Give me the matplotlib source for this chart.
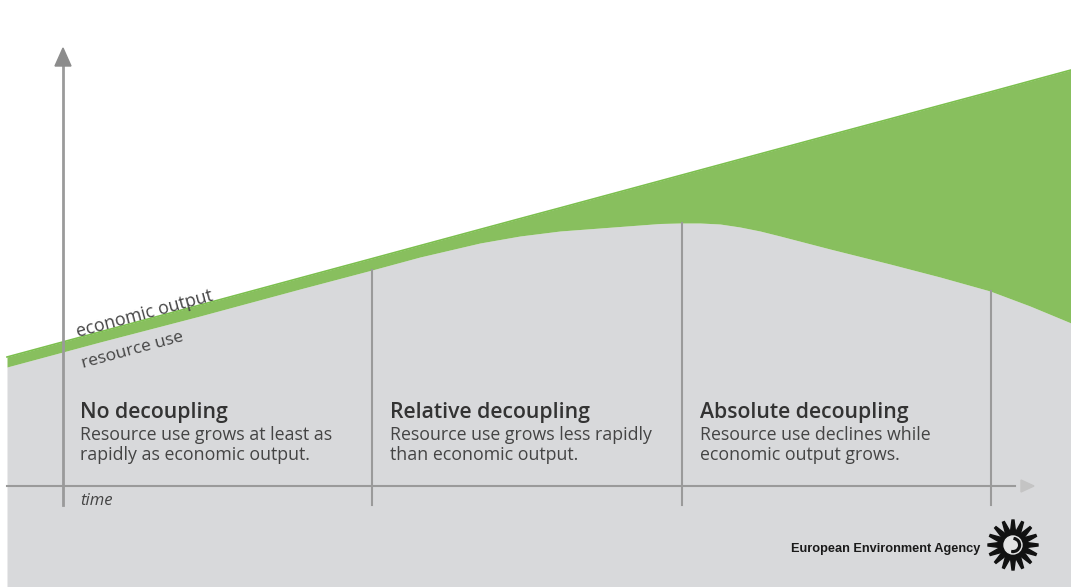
import numpy as np
import matplotlib.pyplot as plt
from matplotlib.patches import Polygon, Circle, Wedge

# curve values (pixel-like units, y measured from the top of the picture)
time_x = [7, 100, 200, 300, 372, 420, 480, 520, 560, 600, 640, 660, 680, 700,
          720, 740, 760, 780, 830, 890, 940, 990, 1030, 1071]
economic_output = [357, 331.9, 305, 278, 258.6, 245.6, 229.4, 218.6, 207.9, 197.1, 186.3, 180.9,
                   175.5, 170.1, 164.7, 159.3, 153.9, 148.5, 135, 118.9, 105.4, 92, 81.1, 70]
resource_use = [367, 342, 316, 289, 270, 257, 243, 236, 231, 228, 225, 223.5, 223, 223,
                224, 227, 231, 236, 249, 264, 277, 291, 306, 323]

phase_edges = [372, 682, 991]
phase_titles = ["No decoupling", "Relative decoupling", "Absolute decoupling"]
phase_lines = [["Resource use grows at least as", "rapidly as economic output."],
               ["Resource use grows less rapidly", "than economic output."],
               ["Resource use declines while", "economic output grows."]]
phase_text_x = [80, 390, 700]

GREEN = '#88bf5e'
GREY = '#d8d9db'
AXIS = '#9a9a9a'
TEXT = '#333333'

plt.rcParams['font.family'] = ['Open Sans', 'DejaVu Sans']

fig = plt.figure(figsize=(10.71, 5.87), dpi=100)
ax = fig.add_axes([0, 0, 1, 1])
ax.set_xlim(0, 1071)
ax.set_ylim(587, 0)
ax.axis('off')

x = np.array(time_x)
eco = np.array(economic_output)
res = np.array(resource_use)

# grey area under resource use, green between the two curves
ax.fill_between(x, res, 587, color=GREY, lw=0, zorder=1)
ax.fill_between(x, eco, res, color=GREEN, lw=0, zorder=1)
ax.plot(x, eco, color='#7cbf4e', lw=1.2, zorder=2)

# axes with arrows
ax.plot([63, 63], [505, 62], color=AXIS, lw=2, zorder=3)
ax.add_patch(Polygon([[63, 48], [55, 66], [71, 66]], closed=True, color='#8c8c8c', zorder=3))
ax.plot([7, 1015], [486, 486], color=AXIS, lw=1.5, zorder=3)
ax.add_patch(Polygon([[1034, 486], [1021, 480], [1021, 492]], closed=True, color='#c4c4c4', zorder=3))

# phase dividers
for xe in phase_edges:
    top = np.interp(xe, x, res)
    ax.plot([xe, xe], [top, 505], color=AXIS, lw=1.5, zorder=3)

# phase labels
for tx, title, lines in zip(phase_text_x, phase_titles, phase_lines):
    ax.text(tx, 418, title, fontsize=15.3, fontweight='semibold', color=TEXT, va='baseline', ha='left', zorder=4)
    for i, line in enumerate(lines):
        ax.text(tx, 440 + 20 * i, line, fontsize=12.8, color='#444444', va='baseline', ha='left', zorder=4)

ax.text(80, 505, "time", fontsize=12, style='italic', color='#444444', va='baseline', ha='left')

ang = np.degrees(np.arctan(0.27))
ax.text(78, 337, "economic output", fontsize=12.8, color='#444444', rotation=ang,
        rotation_mode='anchor', va='baseline', ha='left', zorder=4)
ax.text(83, 368, "resource use", fontsize=12.5, color='#444444', rotation=ang,
        rotation_mode='anchor', va='baseline', ha='left', zorder=4)

# EEA credit and logo
ax.text(980, 549, "European Environment Agency", fontsize=9.2, fontweight='bold',
        family=['Liberation Sans', 'DejaVu Sans'], color='#1a1a1a', va='center', ha='right')
cx, cy = 1013, 545
for a in np.linspace(0, 2 * np.pi, 16, endpoint=False):
    d = np.array([np.cos(a), np.sin(a)])
    p = np.array([-np.sin(a), np.cos(a)])
    c = np.array([cx, cy])
    ray = [c + 11 * d + 2.8 * p, c + 25 * d + 1.0 * p, c + 25 * d - 1.0 * p, c + 11 * d - 2.8 * p]
    ax.add_patch(Polygon(ray, closed=True, color='#111111', zorder=5))
ax.add_patch(Circle((cx, cy), 12, color='#111111', zorder=5))
ax.add_patch(Circle((cx, cy), 9, color='#e4e4e4', zorder=6))
ax.add_patch(Wedge((cx, cy), 7.5, -80, 100, width=1.8, color='#111111', zorder=7))

fig.savefig('out.png', dpi=100, facecolor='white')
